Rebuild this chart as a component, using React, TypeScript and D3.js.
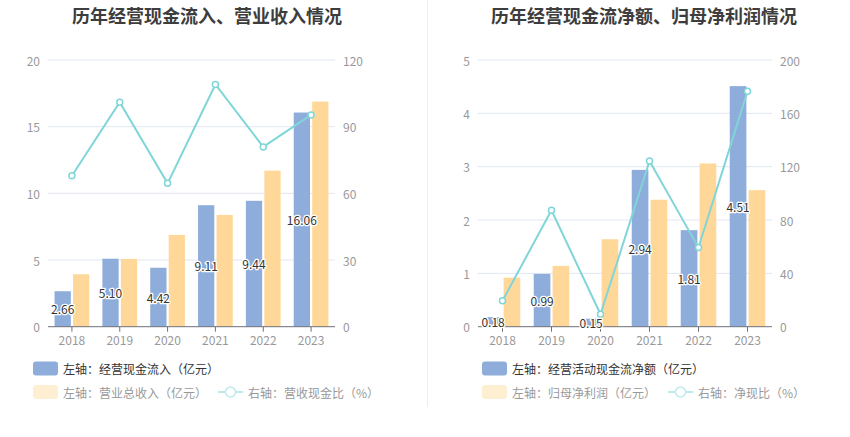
import React from "react";
import * as d3 from "d3";

const years = ["2018", "2019", "2020", "2021", "2022", "2023"];

// Left panel
const cashInflow = [2.66, 5.1, 4.42, 9.11, 9.44, 16.06];
const revenue = [3.93, 5.08, 6.88, 8.38, 11.7, 16.88];
const revenueCashRatio = [67.9, 101.0, 64.5, 109.0, 80.9, 95.3];
const leftTicksL = [0, 5, 10, 15, 20];
const leftTicksR = [0, 30, 60, 90, 120];

// Right panel
const netCashFlow = [0.18, 0.99, 0.15, 2.94, 1.81, 4.51];
const netProfit = [0.92, 1.14, 1.64, 2.38, 3.06, 2.56];
const netCashRatio = [19.5, 87.3, 9.3, 124.3, 59.3, 176.5];
const rightTicksL = [0, 1, 2, 3, 4, 5];
const rightTicksR = [0, 40, 80, 120, 160, 200];

const FONT = "'Noto Sans CJK SC', 'Noto Sans', sans-serif";
const BLUE = "#8EADDB";
const ORANGE = "#FFD899";
const LINE = "#80D5D8";

type PanelProps = {
  title: string;
  titleX: number;
  x0: number;
  x1: number;
  barA: number[];
  barB: number[];
  line: number[];
  ticksL: number[];
  ticksR: number[];
  legendA: string;
  legendB: string;
  legendC: string;
  legendX: number;
  legendCX: number;
};

function Panel(p: PanelProps) {
  const y0 = 60;
  const y1 = 326.7;
  const x = d3.scaleBand<string>().domain(years).range([p.x0, p.x1]);
  const yL = d3.scaleLinear().domain([0, p.ticksL[p.ticksL.length - 1]]).range([y1, y0]);
  const yR = d3.scaleLinear().domain([0, p.ticksR[p.ticksR.length - 1]]).range([y1, y0]);
  const bw = x.bandwidth() * 0.34;
  const gap = 1.1;
  const cx = (d: string) => (x(d) as number) + x.bandwidth() / 2;
  const lineGen = d3
    .line<number>()
    .x((_, i) => cx(years[i]))
    .y((v) => yR(v));

  return (
    <g fontFamily={FONT}>
      <text x={p.titleX} y={15} textAnchor="middle" dominantBaseline="central" fontSize={18} fontWeight="bold" fill="#3d3d3d">
        {p.title}
      </text>
      {p.ticksL.map((t) => (
        <g key={"g" + t}>
          {t !== 0 && <line x1={p.x0} x2={p.x1} y1={yL(t)} y2={yL(t)} stroke="#E0E6F1" strokeWidth={1} />}
          <text x={p.x0 - 8} y={yL(t)} textAnchor="end" dominantBaseline="central" fontSize={12} fill="#999">
            {t}
          </text>
        </g>
      ))}
      {p.ticksR.map((t) => (
        <text key={"r" + t} x={p.x1 + 8} y={yR(t)} textAnchor="start" dominantBaseline="central" fontSize={12} fill="#999">
          {t}
        </text>
      ))}
      {years.map((d, i) => (
        <g key={d}>
          <rect x={cx(d) - gap - bw} y={yL(p.barA[i])} width={bw} height={y1 - yL(p.barA[i])} fill={BLUE} />
          <rect x={cx(d) + gap} y={yL(p.barB[i])} width={bw} height={y1 - yL(p.barB[i])} fill={ORANGE} />
        </g>
      ))}
      <line x1={p.x0} x2={p.x1} y1={y1} y2={y1} stroke="#6E7079" strokeWidth={1} />
      {years.map((d) => (
        <g key={"t" + d}>
          <line x1={cx(d)} x2={cx(d)} y1={y1} y2={y1 + 5} stroke="#6E7079" strokeWidth={1} />
          <text x={cx(d)} y={y1 + 13} textAnchor="middle" dominantBaseline="central" fontSize={12} fill="#999">
            {d}
          </text>
        </g>
      ))}
      <path d={lineGen(p.line) || ""} fill="none" stroke={LINE} strokeWidth={2} />
      {p.line.map((v, i) => (
        <circle key={"c" + i} cx={cx(years[i])} cy={yR(v)} r={3} fill="#fff" stroke={LINE} strokeWidth={1.5} />
      ))}
      {years.map((d, i) => (
        <text
          key={"l" + d}
          x={cx(d) - gap - bw / 2}
          y={(yL(p.barA[i]) + y1) / 2}
          textAnchor="middle"
          dominantBaseline="central"
          fontSize={12}
          fill="#333"
          stroke="#fff"
          strokeWidth={2.5}
          paintOrder="stroke"
          strokeLinejoin="round"
        >
          {p.barA[i].toFixed(2)}
        </text>
      ))}
      {/* legend */}
      <rect x={p.legendX} y={361.5} width={25} height={14} rx={3} fill={BLUE} />
      <text x={p.legendX + 30} y={368.5} dominantBaseline="central" fontSize={12} fill="#333">
        {p.legendA}
      </text>
      <rect x={p.legendX} y={385} width={25} height={14} rx={3} fill="#FFEFD2" />
      <text x={p.legendX + 30} y={392} dominantBaseline="central" fontSize={12} fill="#999">
        {p.legendB}
      </text>
      <line x1={p.legendCX} x2={p.legendCX + 25} y1={392} y2={392} stroke="#BDEBEC" strokeWidth={2} />
      <circle cx={p.legendCX + 12.5} cy={392} r={5} fill="#fff" stroke="#BDEBEC" strokeWidth={1.5} />
      <text x={p.legendCX + 30} y={392} dominantBaseline="central" fontSize={12} fill="#999">
        {p.legendC}
      </text>
    </g>
  );
}

export default function App() {
  return (
    <svg width={850} height={437} style={{ position: "absolute", left: 0, top: 0, background: "#fff" }}>
      <rect x={0} y={0} width={850} height={437} fill="#fff" />
      <line x1={427.5} x2={427.5} y1={0} y2={407} stroke="#EEEEEE" strokeWidth={1} />
      <Panel
        title="历年经营现金流入、营业收入情况"
        titleX={207}
        x0={48}
        x1={335}
        barA={cashInflow}
        barB={revenue}
        line={revenueCashRatio}
        ticksL={leftTicksL}
        ticksR={leftTicksR}
        legendA="左轴：经营现金流入（亿元）"
        legendB="左轴：营业总收入（亿元）"
        legendC="右轴：营收现金比（%）"
        legendX={33}
        legendCX={218}
      />
      <Panel
        title="历年经营现金流净额、归母净利润情况"
        titleX={644}
        x0={478}
        x1={772}
        barA={netCashFlow}
        barB={netProfit}
        line={netCashRatio}
        ticksL={rightTicksL}
        ticksR={rightTicksR}
        legendA="左轴：经营活动现金流净额（亿元）"
        legendB="左轴：归母净利润（亿元）"
        legendC="右轴：净现比（%）"
        legendX={482}
        legendCX={668}
      />
    </svg>
  );
}
